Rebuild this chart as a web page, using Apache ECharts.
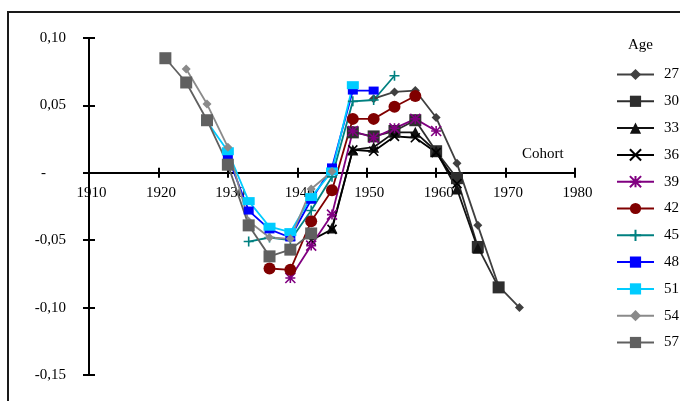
<!DOCTYPE html>
<html>
<head>
<meta charset="utf-8">
<script src="https://cdn.jsdelivr.net/npm/echarts@6/dist/echarts.min.js"></script>
<style>
  html, body { margin: 0; padding: 0; background: #fff; }
  #chart { width: 680px; height: 401px; }
</style>
</head>
<body>
<div id="chart"></div>
<script>
// Birth cohorts (x positions) shared by all age groups
const cohorts = [1921, 1924, 1927, 1930, 1933, 1936, 1939, 1942, 1945,
                 1948, 1951, 1954, 1957, 1960, 1963, 1966, 1969, 1972];

// Cohort effect by age group, aligned with `cohorts` (null = not observed)
const age27 = [null, null, null, null, null, null, null, null, null, null,
               0.055, 0.060, 0.061, 0.041, 0.007, -0.039, -0.084, -0.100];
const age30 = [null, null, null, null, null, null, null, null, null,
               0.030, 0.027, 0.031, 0.039, 0.016, -0.004, -0.055, -0.085, null];
const age33 = [null, null, null, null, null, null, null, null,
               -0.041, 0.017, 0.019, 0.030, 0.030, 0.016, -0.012, -0.056, null, null];
const age36 = [null, null, null, null, null, null, null,
               -0.050, -0.042, 0.017, 0.016, 0.027, 0.026, 0.015, -0.008, null, null, null];
const age39 = [null, null, null, null, null, null,
               -0.078, -0.054, -0.031, 0.031, 0.026, 0.033, 0.040, 0.031, null, null, null, null];
const age42 = [null, null, null, null, null,
               -0.071, -0.072, -0.036, -0.013, 0.040, 0.040, 0.049, 0.057, null, null, null, null, null];
const age45 = [null, null, null, null,
               -0.051, -0.048, -0.050, -0.028, -0.003, 0.053, 0.054, 0.072, null, null, null, null, null, null];
const age48 = [null, null, null,
               0.012, -0.028, -0.042, -0.048, -0.020, 0.004, 0.061, 0.061, null, null, null, null, null, null, null];
const age51 = [null, null,
               0.038, 0.016, -0.021, -0.040, -0.044, -0.018, 0.001, 0.065, null, null, null, null, null, null, null, null];
const age54 = [null,
               0.077, 0.051, 0.019, -0.036, -0.048, -0.049, -0.012, 0.001, null, null, null, null, null, null, null, null, null];
const age57 = [0.085, 0.067, 0.039, 0.006, -0.039, -0.062, -0.057, -0.045,
               null, null, null, null, null, null, null, null, null, null];

const ageLabels = ['27', '30', '33', '36', '39', '42', '45', '48', '51', '54', '57'];
const ageValues = [age27, age30, age33, age36, age39, age42, age45, age48, age51, age54, age57];

const xTicks = { min: 1910, max: 1980, step: 10 };
const yTicks = { min: -0.15, max: 0.10, step: 0.05 };

const SERIF = "'Liberation Serif', 'DejaVu Serif', serif";

// plot area in pixels
const GRID = { left: 89, right: 105, top: 38, bottom: 26 };
const plotH = 401 - GRID.top - GRID.bottom;
// the cohort axis sits on y = 0: shift it up from the bottom edge of the grid
const zeroShift = plotH * (0 - yTicks.min) / (yTicks.max - yTicks.min);

// marker look for each age group
const crossPath = 'path://M0 0L10 10M10 0L0 10';
const starPath = 'path://M0 0L10 10M10 0L0 10M5 0L5 10M0 5L10 5';
const plusPath = 'path://M5 0L5 10M0 5L10 5';
const looks = [
  { color: '#404040', symbol: 'diamond', size: 9 },
  { color: '#2e2e2e', symbol: 'rect', size: 12 },
  { color: '#111111', symbol: 'triangle', size: 11 },
  { color: '#000000', symbol: crossPath, size: 9, stroke: true },
  { color: '#800080', symbol: starPath, size: 10, stroke: true },
  { color: '#800000', symbol: 'circle', size: 12 },
  { color: '#008080', symbol: plusPath, size: 10, stroke: true },
  { color: '#0000ff', symbol: 'rect', size: [10, 8] },
  { color: '#00ccff', symbol: 'rect', size: [12, 8] },
  { color: '#8a8a8a', symbol: 'diamond', size: 9 },
  { color: '#606060', symbol: 'rect', size: 12 }
];

const series = ageLabels.map(function (label, i) {
  const look = looks[i];
  const pts = [];
  ageValues[i].forEach(function (v, k) {
    if (v !== null) pts.push([cohorts[k], v]);
  });
  return {
    name: label,
    type: 'line',
    data: pts,
    symbol: look.symbol,
    symbolSize: look.size,
    showAllSymbol: true,
    animation: false,
    lineStyle: { color: look.color, width: 1.8 },
    itemStyle: look.stroke
      ? { color: look.color, borderColor: look.color, borderWidth: 1.6 }
      : { color: look.color, borderColor: look.color, borderWidth: 0 },
    emphasis: { disabled: true }
  };
});

function yLabel(v) {
  if (Math.abs(v) < 1e-9) return '{z|-}';
  return v.toFixed(2).replace('.', ',');
}

const labelFont = { fontFamily: SERIF, fontSize: 15, color: '#000' };

const chart = echarts.init(document.getElementById('chart'), null, { renderer: 'canvas' });
chart.setOption({
  backgroundColor: '#ffffff',
  animation: false,
  grid: { left: GRID.left, right: GRID.right, top: GRID.top, bottom: GRID.bottom, containLabel: false },
  xAxis: [
    {
      type: 'value', min: xTicks.min, max: xTicks.max, interval: xTicks.step,
      position: 'bottom', offset: -zeroShift,
      axisLine: { show: true, onZero: false, lineStyle: { color: '#000', width: 2 } },
      axisTick: { show: true, length: 5, lineStyle: { color: '#000', width: 2 } },
      axisLabel: Object.assign({ margin: 13, padding: [0, 0, 0, 5], formatter: function (v) { return String(v); } }, labelFont),
      splitLine: { show: false }
    },
    {
      type: 'value', min: xTicks.min, max: xTicks.max, interval: xTicks.step,
      position: 'bottom', offset: -zeroShift,
      axisLine: { show: false, onZero: false },
      axisTick: { show: true, inside: true, length: 5, lineStyle: { color: '#000', width: 2 } },
      axisLabel: { show: false },
      splitLine: { show: false }
    }
  ],
  yAxis: [
    {
      type: 'value', min: yTicks.min, max: yTicks.max, interval: yTicks.step,
      position: 'left',
      axisLine: { show: true, onZero: false, lineStyle: { color: '#000', width: 2 } },
      axisTick: { show: true, length: 6, lineStyle: { color: '#000', width: 2 } },
      axisLabel: Object.assign({
        margin: 23, formatter: yLabel,
        rich: { z: { fontFamily: SERIF, fontSize: 15, color: '#000', padding: [0, 20, 0, 0] } }
      }, labelFont),
      splitLine: { show: false }
    },
    {
      type: 'value', min: yTicks.min, max: yTicks.max, interval: yTicks.step,
      position: 'left',
      axisLine: { show: false, onZero: false },
      axisTick: { show: true, inside: true, length: 6, lineStyle: { color: '#000', width: 2 } },
      axisLabel: { show: false },
      splitLine: { show: false }
    }
  ],
  legend: {
    orient: 'vertical',
    left: 611,
    top: 62,
    itemWidth: 37,
    itemHeight: 14,
    itemGap: 11.8,
    data: ageLabels,
    textStyle: { fontFamily: SERIF, fontSize: 15, color: '#000', padding: [0, 0, 0, 5] },
    selectedMode: false
  },
  graphic: [
    {
      type: 'rect', silent: true,
      shape: { x: 8, y: 12, width: 720, height: 440 },
      style: { fill: 'none', stroke: '#1a1a1a', lineWidth: 2 }
    },
    {
      type: 'text', silent: true, left: 628, top: 38,
      style: { text: 'Age', fontFamily: SERIF, fontSize: 15, fill: '#000' }
    },
    {
      type: 'text', silent: true, left: 522, top: 147,
      style: { text: 'Cohort', fontFamily: SERIF, fontSize: 15, fill: '#000' }
    }
  ],
  series: series
});
</script>
</body>
</html>
